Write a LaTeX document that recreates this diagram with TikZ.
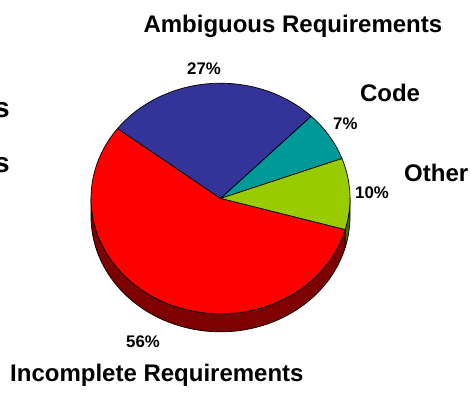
\documentclass[tikz,border=0pt]{standalone}
\usepackage{fontspec}
\setmainfont{Liberation Sans}
\definecolor{sliceBlue}{HTML}{333399}
\definecolor{sliceTeal}{HTML}{009999}
\definecolor{sliceGreen}{HTML}{99CC00}
\definecolor{sliceRed}{HTML}{FF0000}
\definecolor{wallRed}{HTML}{7F0000}
\definecolor{wallGreen}{HTML}{4D6600}
\begin{document}
\begin{tikzpicture}[x=1pt,y=1pt,
  big/.style={font=\fontsize{24}{28}\selectfont\bfseries, inner sep=0pt, anchor=base west},
  pct/.style={font=\fontsize{16.8}{20}\selectfont\bfseries, inner sep=0pt, anchor=base west},
  cut/.style={font=\fontsize{28}{32}\selectfont\bfseries, inner sep=0pt, anchor=base east},
  edge/.style={draw=black, line width=0.7pt, line join=round},
  rim/.style={x radius=129.5, y radius=115.3}]
\useasboundingbox (0,-396) rectangle (470,0);

% 3D pie: side wall first, then the top slices
\begin{scope}[shift={(220.5,-198.5)}]
  \def\rx{129.5}
  \def\ry{115.3}
  \def\dep{18}
  \filldraw[wallRed, edge] ({\rx*cos(180)},{\ry*sin(180)})
    arc[rim, start angle=180, end angle=344.3]
    -- ++(0,-\dep)
    arc[rim, start angle=344.3, end angle=180] -- cycle;
  \filldraw[wallGreen, edge] ({\rx*cos(344.3)},{\ry*sin(344.3)})
    arc[rim, start angle=344.3, end angle=360]
    -- ++(0,-\dep)
    arc[rim, start angle=360, end angle=344.3] -- cycle;

  \filldraw[sliceBlue, edge] (0,0) -- ({\rx*cos(45.5)},{\ry*sin(45.5)})
    arc[rim, start angle=45.5, end angle=142.7] -- cycle;
  \filldraw[sliceTeal, edge] (0,0) -- ({\rx*cos(20.3)},{\ry*sin(20.3)})
    arc[rim, start angle=20.3, end angle=45.5] -- cycle;
  \filldraw[sliceGreen, edge] (0,0) -- ({\rx*cos(-15.7)},{\ry*sin(-15.7)})
    arc[rim, start angle=-15.7, end angle=20.3] -- cycle;
  \filldraw[sliceRed, edge] (0,0) -- ({\rx*cos(142.7)},{\ry*sin(142.7)})
    arc[rim, start angle=142.7, end angle=344.3] -- cycle;
\end{scope}

% category labels
\node[big] (amb)   at (143.3,-32.3) {Ambiguous Requirements};
\node[big] (code)  at (359.8,-101)  {Code};
\node[big] (other) at (404,-181.7)  {Other};
\node[big] (inc)   at (10,-381.7)   {Incomplete Requirements};

% percentages
\node[pct] (p27) at (187,-74)    {27\%};
\node[pct] (p7)  at (333,-129.3) {7\%};
\node[pct] (p10) at (355,-198.7) {10\%};
\node[pct] (p56) at (126,-347.3) {56\%};

% labels running off the left edge
\node[cut] (s1) at (10,-117.3) {s};
\node[cut] (s2) at (10,-172.7) {s};
\end{tikzpicture}
\end{document}
